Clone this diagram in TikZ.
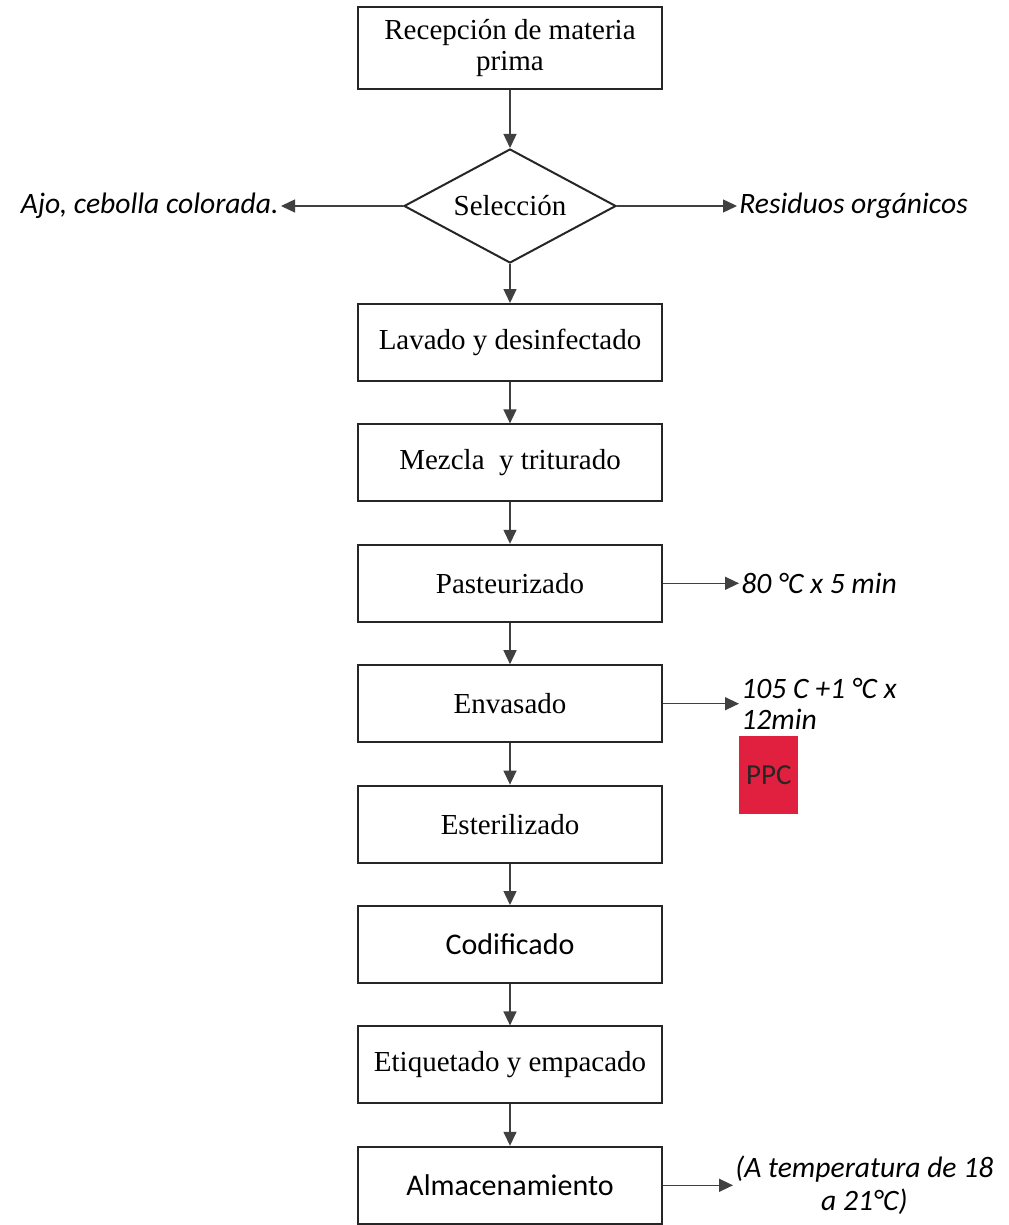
\documentclass[tikz,border=0pt]{standalone}
\usepackage{fontspec}
\setmainfont{Liberation Serif}
\newfontfamily\calibri{Carlito}
\usetikzlibrary{positioning,shapes.geometric,arrows.meta}
\definecolor{ppcrojo}{RGB}{224,32,62}
\tikzset{
	proceso/.style={draw=black!85, line width=1pt, minimum width=152pt, minimum height=38.5pt, align=center, font=\fontsize{14.5}{15.5}\selectfont},
	decision/.style={diamond, aspect=2, draw=black!85, line width=1pt, minimum width=106pt, minimum height=57pt, inner sep=0pt, font=\fontsize{14.5}{15.5}\selectfont},
	nota/.style={inner sep=1pt, font=\calibri\itshape\fontsize{14.8}{15.5}\selectfont},
	flecha/.style={draw=black!75, line width=0.7pt, -{Triangle[length=7pt,width=6.5pt]}},
	ppcbox/.style={fill=ppcrojo, minimum width=29.5pt, minimum height=39pt, inner sep=0pt, text=black!85, font=\calibri\fontsize{14.5}{15}\selectfont},
}

\begin{document}
\begin{tikzpicture}[node distance=20.7pt]
	\useasboundingbox (0,0) rectangle (504pt,-612.5pt);
	\node [proceso, minimum height=41pt] (recep) at (255pt,-24pt) {Recepción de materia\\prima};
	\node [decision, below=29pt of recep] (sel) {Selección};
	\node [proceso, below=19.5pt of sel] (lav) {Lavado y desinfectado};
	\node [proceso, below=of lav] (mez) {Mezcla~ y triturado};
	\node [proceso, below=of mez] (past) {Pasteurizado};
	\node [proceso, below=of past] (env) {Envasado};
	\node [proceso, below=of env] (est) {Esterilizado};
	\node [proceso, below=of est, font=\calibri\fontsize{15}{16}\selectfont] (cod) {Codificado};
	\node [proceso, below=of cod] (etiq) {Etiquetado y empacado};
	\node [proceso, below=of etiq, font=\calibri\fontsize{15}{16}\selectfont] (alm) {Almacenamiento};

	\node [nota, left=61pt of sel] (ajo) {Ajo, cebolla colorada.};
	\node [nota, right=60pt of sel] (res) {Residuos orgánicos};
	\node [nota, right=38pt of past] (temppast) {80 °C x 5 min};
	\node [nota, right=38pt of env, align=left] (tempenv) {105 C +1 °C x\\12min};
	\node [ppcbox, below=2pt of tempenv.south west, anchor=north west] (ppc) {PPC};
	\node [nota, right=35pt of alm, align=center, font=\calibri\itshape\fontsize{14.8}{16.5}\selectfont] (tempalm) {(A temperatura de 18\\a 21°C)};

	\draw [flecha] (recep) -- (sel);
	\draw [flecha] (sel) -- (lav);
	\draw [flecha] (lav) -- (mez);
	\draw [flecha] (mez) -- (past);
	\draw [flecha] (past) -- (env);
	\draw [flecha] (env) -- (est);
	\draw [flecha] (est) -- (cod);
	\draw [flecha] (cod) -- (etiq);
	\draw [flecha] (etiq) -- (alm);
	\draw [flecha] (sel.west) -- (ajo.east);
	\draw [flecha] (sel.east) -- (res.west);
	\draw [flecha] (past.east) -- (temppast.west);
	\draw [flecha] (env.east) -- (tempenv.west);
	\draw [flecha] (alm.east) -- (tempalm.west);
\end{tikzpicture}
\end{document}
